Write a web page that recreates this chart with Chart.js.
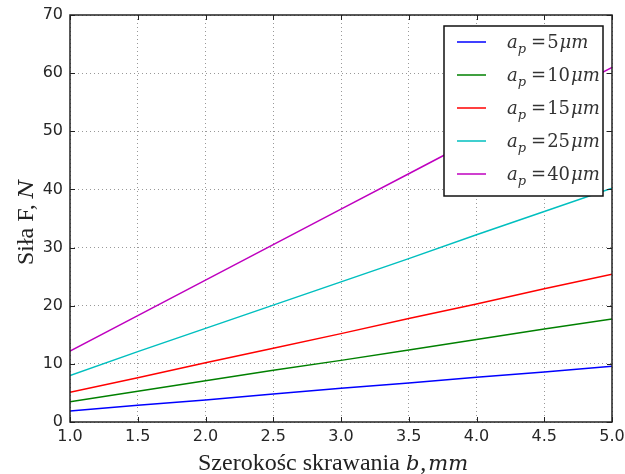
<!DOCTYPE html>
<html>
<head>
<meta charset="utf-8">
<script src="https://cdn.jsdelivr.net/npm/chart.js@4.4.1/dist/chart.umd.min.js"></script>
<style>
  html, body { margin: 0; padding: 0; background: #fff; }
  #wrap { width: 625px; height: 474px; }
</style>
</head>
<body>
<div id="wrap"><canvas id="forceChart" width="625" height="474"></canvas></div>
<script>
// cutting width b, mm
const widths = [1.0, 1.5, 2.0, 2.5, 3.0, 3.5, 4.0, 4.5, 5.0];

// force F, N for each depth a_p
const ap5  = [1.9, 2.9, 3.8, 4.8, 5.8, 6.7, 7.7, 8.6, 9.6];
const ap10 = [3.5, 5.3, 7.1, 8.9, 10.6, 12.4, 14.2, 16.0, 17.7];
const ap15 = [5.1, 7.6, 10.2, 12.7, 15.2, 17.8, 20.3, 22.9, 25.4];
const ap25 = [8.0, 12.1, 16.1, 20.1, 24.1, 28.1, 32.2, 36.2, 40.2];
const ap40 = [12.2, 18.3, 24.4, 30.5, 36.6, 42.7, 48.8, 54.9, 61.0];

const depths = ["5", "10", "15", "25", "40"];
const seriesList = [ap5, ap10, ap15, ap25, ap40];
const colors = ["#0000ff", "#008000", "#ff0000", "#00bfbf", "#bf00bf"];

const xTicks = [1.0, 1.5, 2.0, 2.5, 3.0, 3.5, 4.0, 4.5, 5.0];
const yTicks = [0, 10, 20, 30, 40, 50, 60, 70];

const serif = "'Liberation Serif', serif";
const mathSerif = "'DejaVu Serif', serif";

function toPoints(ys) {
  return widths.map((b, i) => ({ x: b, y: ys[i] }));
}

// draw a row of text pieces, each with its own font / vertical shift
function drawPieces(ctx, pieces, x, y) {
  pieces.forEach(p => {
    ctx.font = p.font;
    ctx.fillText(p.t, x, y + (p.dy || 0));
    x += ctx.measureText(p.t).width + (p.gap || 0);
  });
  return x;
}
function piecesWidth(ctx, pieces) {
  let w = 0;
  pieces.forEach(p => { ctx.font = p.font; w += ctx.measureText(p.t).width + (p.gap || 0); });
  return w;
}

// frame, inward ticks, axis titles and the legend box
const decorations = {
  id: "decorations",
  afterDraw(chart) {
    const ctx = chart.ctx;
    const a = chart.chartArea;
    const xs = chart.scales.x, ys = chart.scales.y;
    ctx.save();

    // inward ticks on all four sides
    ctx.strokeStyle = "#222";
    ctx.lineWidth = 1;
    const tl = 5;
    xTicks.forEach(v => {
      const px = Math.round(xs.getPixelForValue(v)) + 0.5;
      ctx.beginPath();
      ctx.moveTo(px, a.bottom); ctx.lineTo(px, a.bottom - tl);
      ctx.moveTo(px, a.top); ctx.lineTo(px, a.top + tl);
      ctx.stroke();
    });
    yTicks.forEach(v => {
      const py = Math.round(ys.getPixelForValue(v)) + 0.5;
      ctx.beginPath();
      ctx.moveTo(a.left, py); ctx.lineTo(a.left + tl, py);
      ctx.moveTo(a.right, py); ctx.lineTo(a.right - tl, py);
      ctx.stroke();
    });

    // frame
    ctx.lineWidth = 1.5;
    ctx.strokeRect(a.left, a.top, a.right - a.left, a.bottom - a.top);

    // axis titles
    ctx.fillStyle = "#222";
    ctx.textBaseline = "alphabetic";
    const xTitle = [
      { t: "Szerokośc skrawania ", font: "24px " + serif },
      { t: "b", font: "italic 21px " + mathSerif, gap: 1 },
      { t: ",", font: "24px " + serif, gap: 2 },
      { t: "mm", font: "italic 21px " + mathSerif }
    ];
    drawPieces(ctx, xTitle, 198, 470);

    const yTitle = [
      { t: "Siła F, ", font: "24px " + serif },
      { t: "N", font: "italic 21px " + mathSerif }
    ];
    const yw = piecesWidth(ctx, yTitle);
    ctx.save();
    ctx.translate(33, (a.top + a.bottom) / 2 + 4);
    ctx.rotate(-Math.PI / 2);
    drawPieces(ctx, yTitle, -yw / 2, 0);
    ctx.restore();

    // legend
    const lx = a.right - 168, ly = a.top + 11, lw = 159, lh = 170;
    ctx.fillStyle = "#fff";
    ctx.fillRect(lx, ly, lw, lh);
    ctx.strokeStyle = "#111";
    ctx.lineWidth = 1.5;
    ctx.strokeRect(lx, ly, lw, lh);
    chart.data.datasets.forEach((ds, i) => {
      const ry = ly + 16 + i * 33;
      ctx.strokeStyle = ds.borderColor;
      ctx.lineWidth = 1.5;
      ctx.beginPath();
      ctx.moveTo(lx + 13, ry); ctx.lineTo(lx + 42, ry);
      ctx.stroke();
      ctx.fillStyle = "#333";
      const label = [
        { t: "a", font: "italic 18px " + mathSerif },
        { t: "p", font: "italic 13px " + mathSerif, dy: 5, gap: 5 },
        { t: "=", font: "18px " + mathSerif, gap: 1 },
        { t: depths[i], font: "18px " + mathSerif, gap: 1 },
        { t: "μm", font: "italic 18px " + mathSerif }
      ];
      drawPieces(ctx, label, lx + 63, ry + 6);
    });

    ctx.restore();
  }
};

new Chart(document.getElementById("forceChart"), {
  type: "line",
  data: {
    datasets: seriesList.map((ys, i) => ({
      label: "a_p =" + depths[i] + "μm",
      data: toPoints(ys),
      borderColor: colors[i],
      backgroundColor: colors[i],
      borderWidth: 1.5,
      pointRadius: 0,
      tension: 0,
      fill: false
    }))
  },
  plugins: [decorations],
  options: {
    responsive: false,
    animation: false,
    layout: { padding: { left: 0, right: 13, top: 15, bottom: 0 } },
    plugins: { legend: { display: false }, tooltip: { enabled: false } },
    scales: {
      x: {
        type: "linear",
        min: 1, max: 5,
        afterBuildTicks: s => { s.ticks = xTicks.map(v => ({ value: v })); },
        afterFit: s => { s.height = 52; s.paddingLeft = 0; s.paddingRight = 0; },
        ticks: {
          padding: 5,
          color: "#262626",
          font: { family: "'DejaVu Sans'", size: 16 },
          callback: v => v.toFixed(1)
        },
        grid: { color: "#999", lineWidth: 1, drawTicks: false },
        border: { display: false, dash: [1, 3] }
      },
      y: {
        type: "linear",
        min: 0, max: 70,
        afterBuildTicks: s => { s.ticks = yTicks.map(v => ({ value: v })); },
        afterFit: s => { s.width = 70; s.paddingTop = 0; s.paddingBottom = 0; },
        ticks: {
          padding: 7,
          color: "#262626",
          font: { family: "'DejaVu Sans'", size: 16 },
          callback: v => String(v)
        },
        grid: { color: "#999", lineWidth: 1, drawTicks: false },
        border: { display: false, dash: [1, 3] }
      }
    }
  }
});
</script>
</body>
</html>
